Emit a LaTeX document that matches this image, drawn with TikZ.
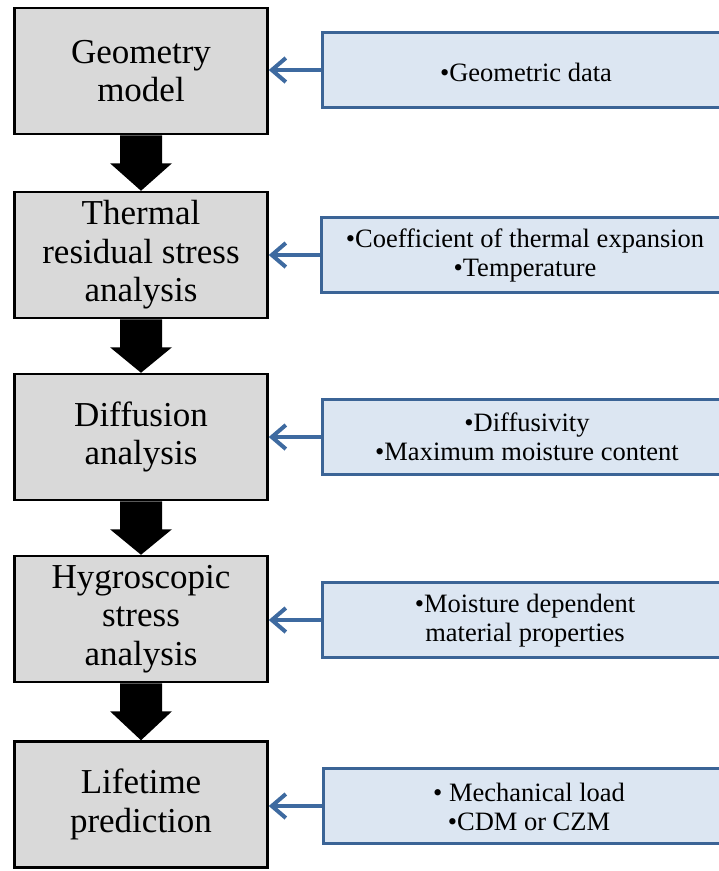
\documentclass[tikz,border=0pt]{standalone}
\usepackage{fontspec}
\setmainfont{Liberation Serif}
\usetikzlibrary{arrows.meta}
\definecolor{stepgray}{HTML}{D9D9D9}
\definecolor{inblue}{HTML}{DCE6F2}
\definecolor{inborder}{HTML}{3B6496}
\definecolor{arrblue}{HTML}{3E6AA0}
\tikzset{
  stepbox/.style={draw=black, line width=2.5pt, fill=stepgray, minimum width=253pt, minimum height=126pt, align=center, font=\fontsize{35}{38.5}\selectfont, inner sep=0pt},
  inbox/.style={draw=inborder, line width=2.5pt, fill=inblue, minimum width=420pt, minimum height=75pt, align=center, inner sep=0pt},
  intext/.style={font=\fontsize{26.5}{29}\selectfont, align=center},
  inarrow/.style={draw=arrblue, line width=4pt, -{Straight Barb[length=14pt,width=24pt,line width=4pt]}},
  downarrow/.style={fill=black, draw=none}
}
\begin{document}
\begin{tikzpicture}[x=1pt,y=-1pt]
\useasboundingbox (0,0) rectangle (719,871);
% left step boxes
\node[stepbox] (g) at (141,71) {Geometry\\model};
\node[stepbox] (t) at (141,255) {Thermal\\residual stress\\analysis};
\node[stepbox] (d) at (141,437) {Diffusion\\analysis};
\node[stepbox] (h) at (141,619) {Hygroscopic\\stress\\analysis};
\node[stepbox] (l) at (141,804.5) {Lifetime\\prediction};
% right input boxes (clipped by page edge)
\begin{scope}
\clip (0,0) rectangle (719,871);
\node[inbox, anchor=west] (ig) at (321,70) {};
\node[inbox, anchor=west] (it) at (320,255) {};
\node[inbox, anchor=west] (id) at (321,437) {};
\node[inbox, anchor=west] (ih) at (321,620) {};
\node[inbox, anchor=west] (il) at (322,806) {};
\end{scope}
\node[intext] (tg) at (526,72) {•Geometric data};
\node[intext] (tt) at (525,255) {•Coefficient of thermal expansion\\•Temperature};
\node[intext] (td) at (527,437) {•Diffusivity\\•Maximum moisture content};
\node[intext] (th) at (525,621) {•Moisture dependent\\material properties};
\node[intext] (tl) at (529,807) {• Mechanical load\\•CDM or CZM};
% blue input arrows
\draw[inarrow] (ig.west) -- (g.east |- ig.west);
\draw[inarrow] (it.west) -- (t.east |- it.west);
\draw[inarrow] (id.west) -- (d.east |- id.west);
\draw[inarrow] (ih.west) -- (h.east |- ih.west);
\draw[inarrow] (il.west) -- (l.east |- il.west);
% black block arrows
\foreach \a/\b in {g/t, t/d, d/h, h/l}{
  \path[downarrow] ([xshift=-21pt]\a.south) -- ([xshift=21pt]\a.south)
     -- ([xshift=21pt,yshift=-28pt]\a.south) -- ([xshift=31pt,yshift=-28pt]\a.south)
     -- (\b.north) -- ([xshift=-31pt,yshift=-28pt]\a.south)
     -- ([xshift=-21pt,yshift=-28pt]\a.south) -- cycle;
}
\end{tikzpicture}
\end{document}
